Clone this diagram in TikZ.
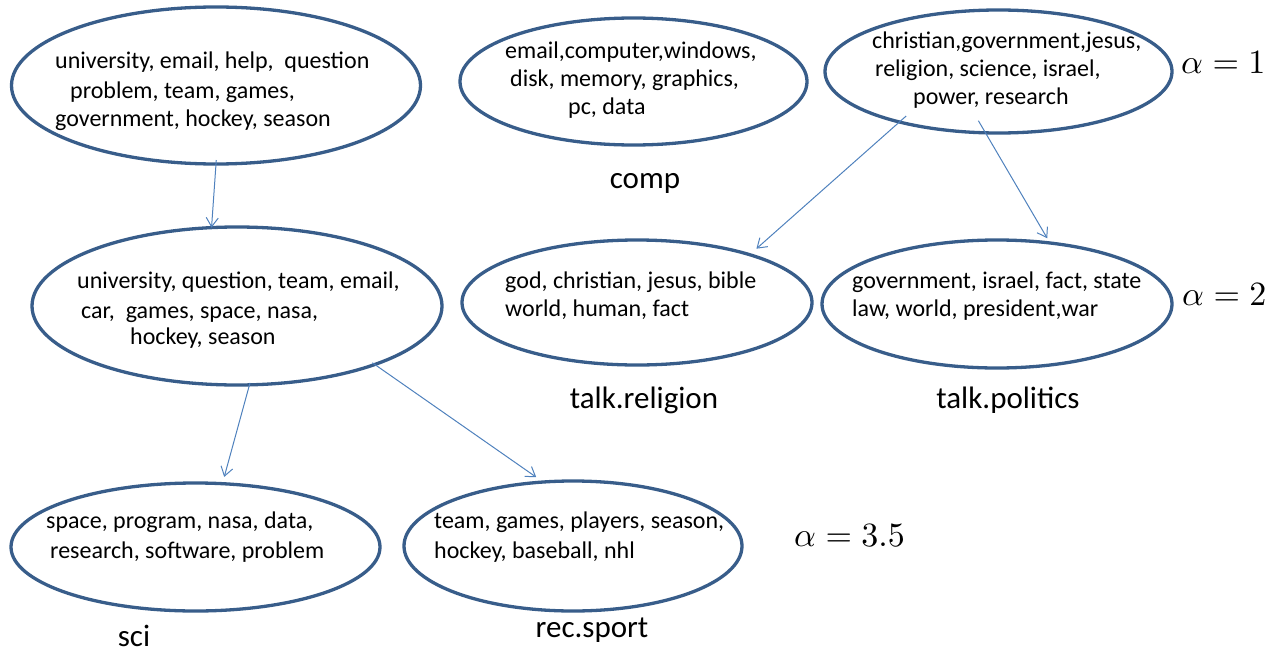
\documentclass[tikz,border=0pt]{standalone}
\usepackage{fontspec}
\setmainfont{Carlito}
\usetikzlibrary{shapes.geometric,arrows.meta}
\definecolor{ellblue}{HTML}{385D8A}
\definecolor{arrblue}{HTML}{4F81BD}
\newcommand{\bigalpha}[1]{\scalebox{3.4}{$\alpha=#1$}}
\begin{document}
\begin{tikzpicture}[x=1pt,y=-1pt,
  topic/.style={draw=ellblue, line width=3.3pt, ellipse, inner sep=0pt, outer sep=0pt},
  words/.style={anchor=base west, inner sep=0pt, font=\fontsize{24}{29}\selectfont},
  catlabel/.style={anchor=base, inner sep=0pt, font=\fontsize{31}{37}\selectfont},
  alphalabel/.style={anchor=base west, inner sep=0pt},
  link/.style={draw=arrblue, line width=1pt, -{Straight Barb[length=9pt,width=12pt]}},
]
\useasboundingbox (0,0) rectangle (1277,653);

% ellipses
\node[topic, minimum width=409pt, minimum height=157pt] (tl)  at (216,85.5) {};
\node[topic, minimum width=347pt, minimum height=127pt] (comp) at (633.5,81.5) {};
\node[topic, minimum width=347pt, minimum height=123pt] (chr) at (998.5,71.5) {};
\node[topic, minimum width=410pt, minimum height=158pt] (mid) at (237,306) {};
\node[topic, minimum width=350pt, minimum height=125pt] (rel) at (637,302.5) {};
\node[topic, minimum width=350pt, minimum height=128pt] (pol) at (997,304) {};
\node[topic, minimum width=369pt, minimum height=128pt] (sci) at (195.5,547) {};
\node[topic, minimum width=338pt, minimum height=130pt] (rec) at (573,546) {};

% words
\node[words] (tl1) at (55,68) {university, email, help, \ question};
\node[words] (tl2) at (70,98) {problem, team, games,};
\node[words] (tl3) at (55,126) {government, hockey, season};

\node[words] (cp1) at (505,58) {email,computer,windows,};
\node[words] (cp2) at (510,86) {disk, memory, graphics,};
\node[words] (cp3) at (568,114) {pc, data};

\node[words] (ch1) at (872,48) {christian,government,jesus,};
\node[words] (ch2) at (875,76) {religion, science, israel,};
\node[words] (ch3) at (913,104) {power, research};

\node[words] (md1) at (77,288) {university, question, team, email,};
\node[words] (md2) at (81,318) {car, \ games, space, nasa,};
\node[words] (md3) at (130,344) {hockey, season};

\node[words] (rl1) at (505,288) {god, christian, jesus, bible};
\node[words] (rl2) at (505,316) {world, human, fact};

\node[words] (pl1) at (852,288) {government, israel, fact, state};
\node[words] (pl2) at (852,316) {law, world, president,war};

\node[words] (sc1) at (46,528) {space, program, nasa, data,};
\node[words] (sc2) at (50,558) {research, software, problem};

\node[words] (rc1) at (434,528) {team, games, players, season,};
\node[words] (rc2) at (434,558) {hockey, baseball, nhl};

% category labels
\node[catlabel] (lcomp) at (645,188) {comp};
\node[catlabel] (lrel) at (644,408) {talk.religion};
\node[catlabel] (lpol) at (1008,408) {talk.politics};
\node[catlabel] (lsci) at (134,646) {sci};
\node[catlabel] (lrec) at (592,637) {rec.sport};

% alpha labels
\node[alphalabel] (a1) at (1181,73) {\bigalpha{1}};
\node[alphalabel] (a2) at (1182,305) {\bigalpha{2}};
\node[alphalabel] (a3) at (794,546) {\bigalpha{3.5}};

% arrows
\draw[link, shorten <=-4pt] (tl.270.5) -- (mid.108.9);
\draw[link, shorten <=-9pt, shorten >=9pt] (chr.207.7) -- (rel.23.6);
\draw[link, shorten <=-14pt, shorten >=5.5pt] (chr.258.5) -- (pol.49.3);
\draw[link, shorten <=-2pt, shorten >=7pt] (mid.279.8) -- (sci.67.2);
\draw[link, shorten <=-3pt, shorten >=8.5pt] (mid.337.8) -- (rec.115.8);
\end{tikzpicture}
\end{document}
